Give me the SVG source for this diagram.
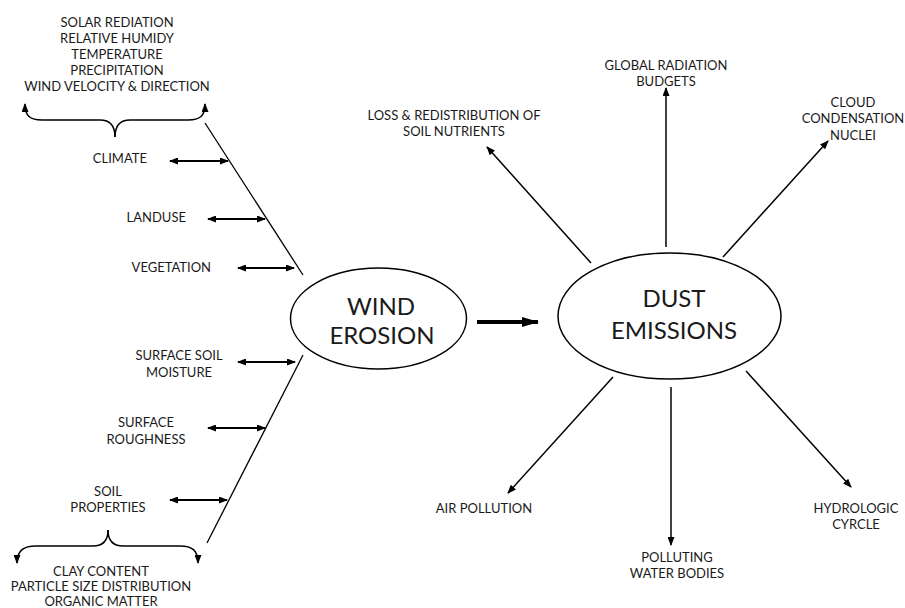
<svg xmlns="http://www.w3.org/2000/svg" width="905" height="608" viewBox="0 0 905 608">
<style>
text{font-family:Lato,"Open Sans","Liberation Sans",sans-serif;fill:#1a1a1a;}
.s{font-size:13px;text-anchor:middle;}
.e{font-size:13px;text-anchor:end;}
.big{font-size:24px;text-anchor:middle;}
.ln{stroke:#000;stroke-width:1.3;fill:none;}
.dbl{stroke:#000;stroke-width:1.8;fill:none;marker-start:url(#ah);marker-end:url(#ah);}
.arr{stroke:#000;stroke-width:1.5;fill:none;marker-end:url(#ah);}
.node{fill:#fff;stroke:#000;stroke-width:1.5;}
</style>
<defs>
<marker id="ah" markerUnits="userSpaceOnUse" markerWidth="9" markerHeight="7" refX="8" refY="3.5" orient="auto-start-reverse"><path d="M0,0 L9,3.5 L0,7 z" fill="#000"/></marker>
<marker id="big" markerUnits="userSpaceOnUse" markerWidth="17" markerHeight="10" refX="16" refY="5" orient="auto"><path d="M0,0 L17,5 L0,10 z" fill="#000"/></marker>
</defs>

<g id="climate-factors">
<text class="s" x="117" y="26.5">SOLAR REDIATION</text>
<text class="s" x="117" y="42.5">RELATIVE HUMIDY</text>
<text class="s" x="117" y="58.5">TEMPERATURE</text>
<text class="s" x="117" y="74.5">PRECIPITATION</text>
<text class="s" x="117" y="90.5">WIND VELOCITY &amp; DIRECTION</text>
</g>
<g id="climate"><text class="e" x="147" y="163">CLIMATE</text></g>
<g id="landuse"><text class="e" x="186" y="222">LANDUSE</text></g>
<g id="vegetation"><text class="e" x="211" y="272">VEGETATION</text></g>
<g id="soil-moisture"><text class="s" x="179" y="360">SURFACE SOIL</text><text class="s" x="179" y="377">MOISTURE</text></g>
<g id="roughness"><text class="s" x="146" y="427">SURFACE</text><text class="s" x="146" y="444">ROUGHNESS</text></g>
<g id="soil-properties"><text class="s" x="108" y="496">SOIL</text><text class="s" x="108" y="512">PROPERTIES</text></g>
<g id="soil-factors">
<text class="s" x="101" y="575.5">CLAY CONTENT</text>
<text class="s" x="101" y="590.5">PARTICLE SIZE DISTRIBUTION</text>
<text class="s" x="101" y="605.5">ORGANIC MATTER</text>
</g>

<g id="wind-erosion">
<ellipse class="node" cx="378.5" cy="318.5" rx="88" ry="50.5"/>
<text class="big" x="381" y="315">WIND</text>
<text class="big" x="382" y="344">EROSION</text>
</g>
<g id="dust-emissions">
<ellipse class="node" cx="669.5" cy="316" rx="111.5" ry="63"/>
<text class="big" x="674" y="307">DUST</text>
<text class="big" x="674" y="339">EMISSIONS</text>
</g>

<g id="loss"><text class="s" x="454" y="119.5">LOSS &amp; REDISTRIBUTION OF</text><text class="s" x="454" y="135.5">SOIL NUTRIENTS</text></g>
<g id="global"><text class="s" x="666" y="69.5">GLOBAL RADIATION</text><text class="s" x="666" y="86">BUDGETS</text></g>
<g id="cloud"><text class="s" x="853" y="107">CLOUD</text><text class="s" x="853" y="123">CONDENSATION</text><text class="s" x="853" y="139.5">NUCLEI</text></g>
<g id="air"><text class="s" x="484" y="512.5">AIR POLLUTION</text></g>
<g id="water"><text class="s" x="677" y="562">POLLUTING</text><text class="s" x="677" y="578">WATER BODIES</text></g>
<g id="hydro"><text class="s" x="856" y="512.5">HYDROLOGIC</text><text class="s" x="856" y="528.5">CYRCLE</text></g>

<g id="connectors">
<path class="arr" d="M115,137 C115,126 110,120 100,120 L42,120 C30,120 25,116 25,104"/>
<path class="arr" d="M115,137 C115,126 120,120 130,120 L188,120 C200,120 205,116 205,104"/>
<path class="arr" d="M108,530 C108,540 103,546 93,546 L36,546 C24,546 17,550 17,563"/>
<path class="arr" d="M108,530 C108,540 113,546 123,546 L180,546 C192,546 198,550 198,563"/>
<line class="ln" x1="205" y1="123" x2="303" y2="275"/>
<line class="ln" x1="303" y1="355" x2="207" y2="543"/>
<line class="dbl" x1="170" y1="161" x2="228" y2="161"/>
<line class="dbl" x1="208" y1="219" x2="265" y2="219"/>
<line class="dbl" x1="238" y1="268" x2="294" y2="268"/>
<line class="dbl" x1="238" y1="362" x2="295" y2="362"/>
<line class="dbl" x1="208" y1="428" x2="265" y2="428"/>
<line class="dbl" x1="170" y1="500" x2="227" y2="500"/>
<line x1="477" y1="322" x2="538" y2="322" stroke="#000" stroke-width="4" marker-end="url(#big)"/>
<line class="arr" x1="591" y1="263" x2="487" y2="147"/>
<line class="arr" x1="666" y1="247" x2="666" y2="88"/>
<line class="arr" x1="723" y1="257" x2="828" y2="141"/>
<line class="arr" x1="613" y1="377" x2="508" y2="493"/>
<line class="arr" x1="671" y1="387" x2="671" y2="545"/>
<line class="arr" x1="746" y1="371" x2="851" y2="487"/>
</g>
</svg>
